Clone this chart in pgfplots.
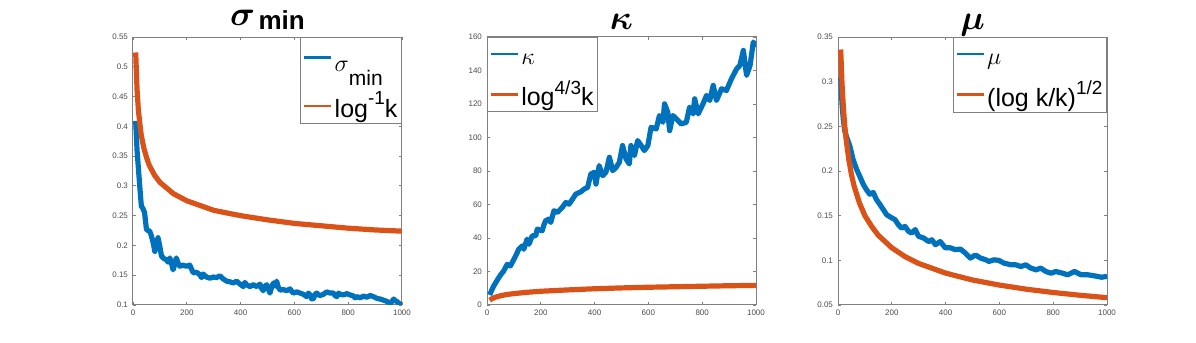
\documentclass[border=0pt]{standalone}
\usepackage{fontspec}
\setmainfont{Liberation Sans}
\usepackage{pgfplots}
\pgfplotsset{compat=1.18}

\definecolor{mblue}{rgb}{0,0.447,0.741}
\definecolor{morange}{rgb}{0.85,0.325,0.098}
\definecolor{axgray}{gray}{0.5}

\pgfplotsset{
  mat/.style={
    scale only axis, width=134.5pt, height=134pt,
    xmin=0, xmax=1000, xtick={0,200,...,1000},
    axis line style={axgray, line width=0.5pt},
    tick style={axgray, line width=0.4pt},
    tick align=inside, major tick length=1.6pt,
    xtick pos=both, ytick pos=both,
    ticklabel style={font=\fontsize{4}{4}\selectfont, text=black!70},
    /pgf/number format/assume math mode=true,
    /pgf/number format/1000 sep={},
    /pgf/number format/fixed,
    scaled ticks=false,
    xticklabel style={yshift=1pt},
    yticklabel style={xshift=1pt},
    title style={at={(0.5,1)}, anchor=base, yshift=-2pt, font=\bfseries},
    legend style={font=\fontsize{12.5}{12.5}\selectfont, draw=axgray, fill=white,
      line width=0.5pt, cells={anchor=west}, row sep=4.5pt,
      inner xsep=1pt, inner ysep=0.5pt, nodes={inner sep=1pt}},
    legend image code/.code={\draw[#1, line width=1.4pt] (0pt,0pt) -- (13.5pt,0pt);},
    every axis plot/.append style={line width=2.6pt, line join=round},
  },
  mtitle/.style={title style={font=\fontsize{16}{16}\selectfont\bfseries\boldmath}},
}

\begin{document}
\begin{tikzpicture}
\path[use as bounding box] (0,0) rectangle (598pt,171.5pt);

% sigma_min
\begin{axis}[mat, at={(66.5pt,19pt)}, anchor=south west,
  ymin=0.1, ymax=0.55, ytick={0.1,0.15,...,0.56},
  title={{\fontsize{16}{16}\selectfont\boldmath\raisebox{1.5pt}{$\sigma$}}\,{\fontsize{13}{13}\selectfont min}},
  legend style={at={(1,1)}, anchor=north east, row sep=6.5pt}]
\addplot[mblue] coordinates {
(10,0.409) (15,0.36) (20,0.33) (25,0.300) (31,0.266) (37,0.262) (43,0.255) (50,0.227)
(56,0.225) (62,0.224) (67,0.218) (72,0.210) (77,0.200) (81,0.190) (87,0.200) (93,0.213)
(99,0.200) (106,0.182) (115,0.178) (124,0.176) (130,0.172) (137,0.179) (143,0.170)
(149,0.159) (155,0.168) (161,0.179) (168,0.170) (174,0.165) (186,0.167) (199,0.165)
(211,0.167) (218,0.160) (224,0.154) (236,0.155) (248,0.151) (255,0.146) (261,0.152)
(273,0.147) (286,0.145) (298,0.147) (310,0.146) (323,0.149) (335,0.144) (348,0.140)
(360,0.139) (373,0.137) (385,0.140) (398,0.135) (404,0.133) (410,0.131) (416,0.138)
(422,0.134) (435,0.131) (447,0.134) (460,0.131) (472,0.135) (478,0.128) (484,0.124)
(490,0.131) (497,0.134) (503,0.127) (509,0.120) (516,0.131) (522,0.137) (528,0.132)
(534,0.140) (540,0.130) (547,0.125) (559,0.126) (571,0.124) (584,0.127) (590,0.123)
(596,0.120) (608,0.122) (621,0.120) (633,0.118) (646,0.114) (652,0.120) (658,0.117)
(665,0.110) (671,0.111) (677,0.118) (683,0.120) (690,0.117) (696,0.116) (708,0.118)
(720,0.122) (733,0.120) (745,0.120) (751,0.116) (758,0.114) (764,0.120) (770,0.118)
(782,0.117) (795,0.119) (807,0.117) (820,0.115) (826,0.112) (832,0.114) (845,0.112)
(857,0.115) (869,0.113) (882,0.116) (894,0.114) (907,0.111) (919,0.110) (932,0.108)
(944,0.106) (957,0.103) (963,0.106) (969,0.110) (975,0.107) (981,0.106) (988,0.103)
(994,0.101) (1000,0.104)
};
\addlegendentry{\rule{0pt}{15.5pt}$\sigma$\raisebox{-7pt}{\fontsize{10.5}{10.5}\selectfont min}}
\addplot[morange] coordinates {
(10,0.524) (15,0.462) (20,0.427) (30,0.387) (40,0.364) (50,0.348) (60,0.335)
(80,0.318) (100,0.306) (150,0.287) (200,0.275) (300,0.259) (400,0.250) (500,0.243)
(600,0.237) (700,0.233) (800,0.229) (900,0.226) (1000,0.224)
};
\addlegendentry{log\raisebox{6.5pt}{\fontsize{9.5}{9.5}\selectfont -1}k}
\end{axis}

% kappa
\begin{axis}[mat, mtitle, at={(243.5pt,19pt)}, anchor=south west,
  ymin=0, ymax=160, ytick={0,20,...,160},
  title={$\kappa$},
  legend style={at={(0,1)}, anchor=north west}]
\addplot[mblue] coordinates {
(10,6) (18,9) (25,11.4) (35,14) (44,16.4) (53,18.5) (62,20.3) (75,24.3) (87,23.3)
(100,27.3) (110,30.5) (118,33.3) (131,35.3) (137,33.3) (149,39.3) (156,36.3) (168,41.3)
(181,41.3) (187,45.3) (205,44.3) (212,48) (218,50.3) (230,51.3) (237,49.3) (249,56.3)
(262,55.3) (280,58.3) (293,61.2) (305,60.2) (318,63.2) (330,66.2) (349,67.6) (361,69.2)
(374,70.2) (386,78.2) (399,79.2) (405,72.2) (417,83.2) (430,77.2) (442,79.2) (455,88.2)
(467,80.2) (480,82.2) (492,85.2) (504,95.2) (517,87.2) (529,84.2) (535,95.2) (548,89.2)
(560,98.2) (573,95.2) (585,92.2) (598,95.2) (610,106.1) (629,105.1) (641,113.1)
(654,109.1) (660,120.1) (672,115.1) (679,104.1) (691,113.1) (704,111.1) (722,108.1)
(741,109.1) (753,118.1) (766,114.1) (772,123.1) (785,114.1) (803,120.1) (816,125.1)
(828,122.1) (841,131.1) (853,122.1) (872,129.1) (890,128.1) (909,135.1) (928,141)
(940,143) (953,152) (965,137.1) (978,143) (990,157) (1000,154)
};
\addlegendentry{\rule{0pt}{12pt}$\kappa$}
\addplot[morange] coordinates {
(10,2.9) (20,3.9) (30,4.6) (50,5.5) (75,6.3) (100,6.8) (150,7.6) (200,8.2) (300,9.0)
(400,9.7) (500,10.2) (600,10.6) (700,10.9) (800,11.2) (900,11.5) (1000,11.7)
};
\addlegendentry{log\raisebox{5.5pt}{\fontsize{9.5}{9.5}\selectfont 4/3}k}
\end{axis}

% mu
\begin{axis}[mat, mtitle, at={(419pt,19pt)}, anchor=south west,
  ymin=0.05, ymax=0.35, ytick={0.05,0.1,...,0.36},
  title={$\mu$},
  legend style={at={(1,1)}, anchor=north east}]
\addplot[mblue] coordinates {
(10,0.305) (15,0.275) (20,0.257) (25,0.245) (31,0.239) (44,0.228) (56,0.213) (69,0.202)
(81,0.194) (94,0.185) (106,0.179) (118,0.174) (131,0.176) (143,0.168) (156,0.1625)
(168,0.157) (181,0.151) (200,0.1475) (212,0.1456) (224,0.140) (237,0.136) (249,0.138)
(262,0.1325) (274,0.1306) (287,0.1344) (299,0.127) (318,0.125) (337,0.121) (349,0.123)
(362,0.1175) (380,0.121) (399,0.114) (418,0.114) (436,0.112) (455,0.1126) (474,0.108)
(492,0.1025) (511,0.106) (530,0.1025) (549,0.1006) (561,0.0988) (580,0.1006)
(598,0.0999) (617,0.0969) (642,0.095) (661,0.095) (680,0.0931) (698,0.095) (717,0.0913)
(736,0.0894) (754,0.0913) (773,0.0875) (792,0.0856) (810,0.0875) (835,0.0856)
(854,0.0838) (879,0.0875) (904,0.0838) (929,0.0838) (954,0.0826) (979,0.0811) (1000,0.082)
};
\addlegendentry{\rule{0pt}{12pt}$\mu$}
\addplot[morange] coordinates {
(10,0.336) (15,0.297) (20,0.271) (25,0.251) (30,0.236) (40,0.213) (50,0.196) (60,0.183)
(80,0.164) (100,0.150) (125,0.138) (150,0.128) (200,0.114) (250,0.104) (300,0.0965)
(400,0.0857) (500,0.0780) (600,0.0723) (700,0.0677) (800,0.0640) (900,0.0609) (1000,0.0582)
};
\addlegendentry{(log k/k)\raisebox{6pt}{\fontsize{9.5}{9.5}\selectfont 1/2}}
\end{axis}
\end{tikzpicture}
\end{document}
